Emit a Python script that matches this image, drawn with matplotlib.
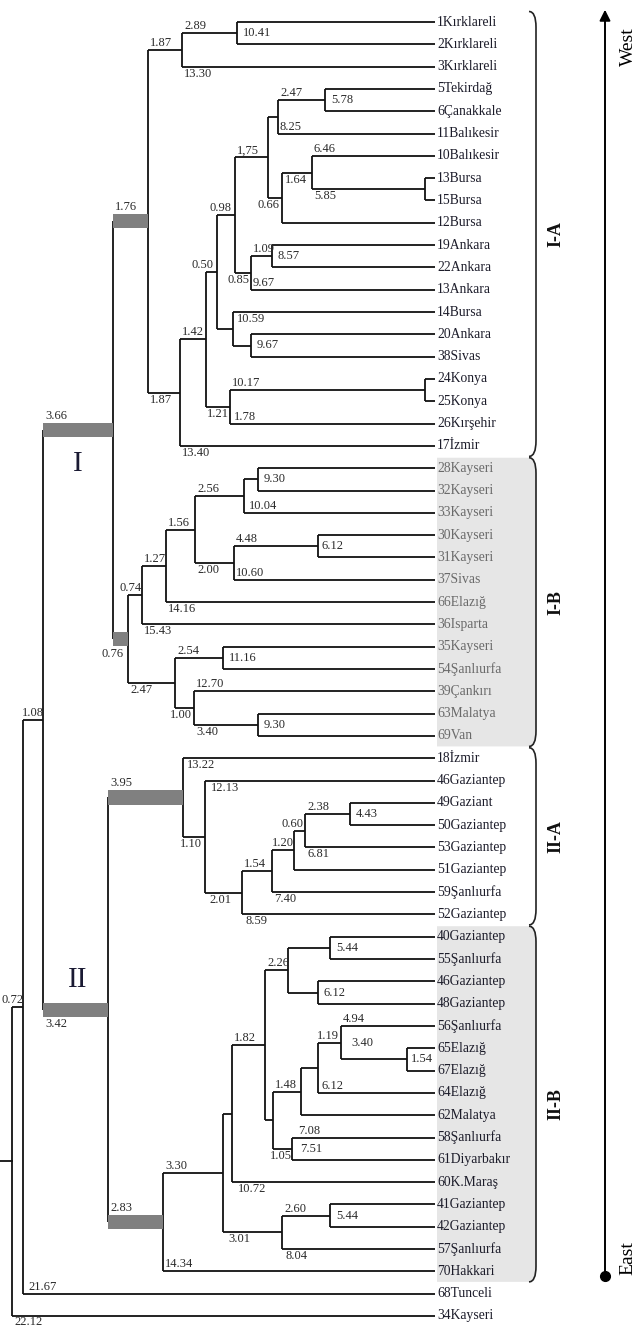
import matplotlib.pyplot as plt
from matplotlib.patches import Rectangle, PathPatch
from matplotlib.path import Path

plt.rcParams['font.family'] = ['Liberation Serif', 'DejaVu Serif']

# leaves, top to bottom
leaves = [
    '1Kırklareli', '2Kırklareli', '3Kırklareli', '5Tekirdağ', '6Çanakkale',
    '11Balıkesir', '10Balıkesir', '13Bursa', '15Bursa', '12Bursa',
    '19Ankara', '22Ankara', '13Ankara', '14Bursa', '20Ankara', '38Sivas',
    '24Konya', '25Konya', '26Kırşehir', '17İzmir',
    '28Kayseri', '32Kayseri', '33Kayseri', '30Kayseri', '31Kayseri', '37Sivas',
    '66Elazığ', '36Isparta', '35Kayseri', '54Şanlıurfa', '39Çankırı',
    '63Malatya', '69Van',
    '18İzmir', '46Gaziantep', '49Gaziant', '50Gaziantep', '53Gaziantep',
    '51Gaziantep', '59Şanlıurfa', '52Gaziantep',
    '40Gaziantep', '55Şanlıurfa', '46Gaziantep', '48Gaziantep', '56Şanlıurfa',
    '65Elazığ', '67Elazığ', '64Elazığ', '62Malatya', '58Şanlıurfa',
    '61Diyarbakır', '60K.Maraş', '41Gaziantep', '42Gaziantep', '57Şanlıurfa',
    '70Hakkari',
    '68Tunceli', '34Kayseri',
]

# merges (top child, bottom child); ints are leaf indices
children = {
    'a1': (0, 1), 'a2': ('a1', 2), 'a3': (3, 4), 'a4': ('a3', 5),
    'a5': (7, 8), 'a6': (6, 'a5'), 'a7': ('a6', 9), 'a8': ('a4', 'a7'),
    'a9': (10, 11), 'a10': ('a9', 12), 'a11': ('a8', 'a10'),
    'a12': (14, 15), 'a13': (13, 'a12'), 'a14': ('a11', 'a13'),
    'a15': (16, 17), 'a16': ('a15', 18), 'a17': ('a14', 'a16'),
    'a18': ('a17', 19), 'IA': ('a2', 'a18'),
    'b1': (20, 21), 'b2': ('b1', 22), 'b3': (23, 24), 'b4': ('b3', 25),
    'b5': ('b2', 'b4'), 'b6': ('b5', 26), 'b7': ('b6', 27),
    'b8': (28, 29), 'b9': (31, 32), 'b10': (30, 'b9'), 'b11': ('b8', 'b10'),
    'IB': ('b7', 'b11'), 'I': ('IA', 'IB'),
    'c1': (35, 36), 'c2': ('c1', 37), 'c3': ('c2', 38), 'c4': ('c3', 39),
    'c5': ('c4', 40), 'c6': (34, 'c5'), 'IIA': (33, 'c6'),
    'd1': (41, 42), 'd2': (43, 44), 'd3': ('d1', 'd2'), 'd4': (46, 47),
    'd5': (45, 'd4'), 'd6': ('d5', 48), 'd7': ('d6', 49), 'd8': (50, 51),
    'd9': ('d7', 'd8'), 'd10': ('d3', 'd9'), 'd11': ('d10', 52),
    'd12': (53, 54), 'd13': ('d12', 55), 'd14': ('d11', 'd13'),
    'IIB': ('d14', 56), 'II': ('IIA', 'IIB'),
    'r1': ('I', 'II'), 'r2': ('r1', 57), 'r3': ('r2', 58),
}

# node position along the distance axis
node_x = {
    'a1': 237, 'a2': 182, 'a3': 325, 'a4': 278, 'a5': 425, 'a6': 312,
    'a7': 282, 'a8': 268, 'a9': 272, 'a10': 251, 'a11': 235, 'a12': 251,
    'a13': 233, 'a14': 217, 'a15': 425, 'a16': 230, 'a17': 206, 'a18': 180,
    'IA': 148,
    'b1': 258, 'b2': 244, 'b3': 318, 'b4': 234, 'b5': 195, 'b6': 166,
    'b7': 142, 'b8': 223, 'b9': 258, 'b10': 194, 'b11': 175, 'IB': 128,
    'I': 113,
    'c1': 350, 'c2': 305, 'c3': 294, 'c4': 272, 'c5': 242, 'c6': 205,
    'IIA': 183,
    'd1': 330, 'd2': 318, 'd3': 288, 'd4': 407, 'd5': 341, 'd6': 318,
    'd7': 301, 'd8': 292, 'd9': 273, 'd10': 265, 'd11': 232, 'd12': 330,
    'd13': 282, 'd14': 223, 'IIB': 163, 'II': 108,
    'r1': 43, 'r2': 23, 'r3': 12,
}
thick_nodes = ['IA', 'IB', 'I', 'II', 'IIA', 'IIB']

groups = ['I-A', 'I-B', 'II-A', 'II-B']
group_first = [0, 20, 33, 41]
group_last = [19, 32, 40, 56]
group_shaded = [False, True, False, True]

branch_label_node = [
    'a2', 'a1', 'a2', 'IA', 'I', 'a4', 'a3', 'a4', 'a11', 'a6', 'a7', 'a6',
    'a14', 'a8', 'a10', 'a9', 'a11', 'a10', 'a17', 'a13', 'a12', 'a18', 'IA',
    'a16', 'a17', 'a16', 'a18', 'r1',
    'b1', 'b5', 'b2', 'b6', 'b4', 'b3', 'b7', 'b5', 'b4', 'IB', 'b6', 'b7',
    'I', 'b11', 'b8', 'b10', 'IB', 'b11', 'b10', 'b9', 'r2',
    'IIA', 'II', 'c6', 'IIA', 'c2', 'c1', 'c3', 'c4', 'c2', 'c5', 'c4', 'c6',
    'c5',
    'd1', 'd10', 'd2', 'd5', 'd6', 'd11', 'd5', 'd4', 'd6', 'd9', 'IIB', 'd8',
    'd8', 'd9', 'd11', 'd13', 'd12', 'II', 'r1', 'd14', 'IIB', 'd13', 'r2',
    'r3', 'r3',
]
branch_label_text = [
    '2.89', '10.41', '13.30', '1.87', '1.76', '2.47', '5.78', '8.25', '1,75',
    '6.46', '1.64', '5.85', '0.98', '0.66', '1.09', '8.57', '0.85', '9.67',
    '0.50', '10.59', '9.67', '1.42', '1.87', '10.17', '1.21', '1.78', '13.40',
    '3.66',
    '9.30', '2.56', '10.04', '1.56', '4.48', '6.12', '1.27', '2.00', '10.60',
    '0.74', '14.16', '15.43', '0.76', '2.54', '11.16', '12.70', '2.47', '1.00',
    '3.40', '9.30', '1.08',
    '13.22', '3.95', '12.13', '1.10', '2.38', '4.43', '0.60', '1.20', '6.81',
    '1.54', '7.40', '2.01', '8.59',
    '5.44', '2.26', '6.12', '4.94', '1.19', '1.82', '3.40', '1.54', '6.12',
    '1.48', '3.30', '7.08', '7.51', '1.05', '10.72', '2.60', '5.44', '2.83',
    '3.42', '3.01', '14.34', '8.04', '21.67', '0.72', '22.12',
]

# label placement: side of the node, x shift (px), y shift (px)
branch_label_place = [
    ('ta', 0, 0), ('r', 2, 0), ('bb', 0, 0), ('ta', 0, 0), ('ta', 0, -7),
    ('ta', 0, 0), ('r', 2, 0), ('ba', 0, 0), ('ta', 0, 0), ('ta', 0, 0),
    ('tb', 1, 0), ('bb', 0, 0), ('ta', -10, 0), ('bb', -13, 0), ('ta', 0, 0),
    ('r', 2, 0), ('bb', -10, 0), ('ba', 0, 0), ('ta', -16, 0), ('tb', 2, 0),
    ('r', 2, 0), ('ta', 0, 0), ('bb', 0, 0), ('ta', 0, 0), ('bb', -1, 0),
    ('ba', 2, 0), ('bb', 0, 0), ('ta', 0, -7),
    ('r', 2, 0), ('ta', 0, 0), ('ba', 3, 0), ('ta', 0, 0), ('ta', 0, 0),
    ('r', 0, 0), ('ta', 0, 0), ('bb', 0, 0), ('ba', 0, 0), ('ta', -11, 0),
    ('bb', 0, 0), ('bb', 0, 0), ('bb', -13, 8), ('ta', 0, 0), ('r', 2, 0),
    ('ta', 0, 0), ('bb', 0, 0), ('bb', -7, 0), ('bb', 0, 0), ('r', 2, 0),
    ('ta', -3, 0),
    ('tb', 2, 0), ('ta', 0, -7), ('tb', 4, 0), ('bb', -5, 0), ('ta', 0, 0),
    ('r', 2, 0), ('ta', -14, 0), ('ta', -2, 0), ('bb', 0, 0), ('ta', 0, 0),
    ('bb', 0, 0), ('bb', 2, 0), ('bb', 2, 0),
    ('r', 2, 0), ('ta', 0, 0), ('r', 2, 0), ('ta', 0, 0), ('ta', -3, 0),
    ('ta', 0, 0), ('r', 6, 0), ('r', 0, 0), ('ba', 2, 0), ('ta', 0, 0),
    ('ta', 0, 0), ('ta', 4, 0), ('r', 4, 0), ('bb', -5, 0), ('bb', 4, 0),
    ('ta', 0, 0), ('r', 2, 0), ('ba', 0, -7), ('bb', 0, 7), ('bb', 3, 0),
    ('ba', 0, 0), ('bb', 2, 0), ('ba', 3, 0), ('ta', -12, 0), ('bb', 0, -1),
]

TOP_PX, BOTTOM_PX = 22, 1316   # pixel rows of the first and last leaf
ROW = (BOTTOM_PX - TOP_PX) / (len(leaves) - 1)
PX = 1.0 / ROW
LEAF_END = 435
BAR_H = 0.64
LINE = '#111111'
GREY_BAR = '#808080'

# y of every node = middle of its two children
ypos = {i: float(i) for i in range(len(leaves))}
xpos = {i: LEAF_END for i in range(len(leaves))}
for name, (top, bot) in children.items():
    ypos[name] = (ypos[top] + ypos[bot]) / 2
    xpos[name] = node_x[name]

fig = plt.figure(figsize=(6.38, 13.32), dpi=100)
ax = fig.add_axes([0, 0, 1, 1])
ax.set_xlim(0, 638)
ax.set_ylim(len(leaves) - 1 + (1332 - BOTTOM_PX) * PX, -TOP_PX * PX)
ax.axis('off')

# group shading and brackets
for g, y0, y1, shaded in zip(groups, group_first, group_last, group_shaded):
    top, bot = y0 - 0.47, y1 + 0.47
    xr, xc, c = 536, 529, 0.7
    verts = [(xc, top), (xr, top), (xr, top + c), (xr, bot - c), (xr, bot), (xc, bot)]
    codes = [Path.MOVETO, Path.CURVE3, Path.CURVE3, Path.LINETO, Path.CURVE3, Path.CURVE3]
    if shaded:
        fill = [(437, top)] + verts + [(437, bot), (437, top)]
        fcodes = [Path.MOVETO, Path.LINETO] + codes[1:] + [Path.LINETO, Path.CLOSEPOLY]
        ax.add_patch(PathPatch(Path(fill, fcodes), facecolor='#e6e6e6',
                               edgecolor='none', zorder=0))
    ax.add_patch(PathPatch(Path(verts, codes), facecolor='none',
                           edgecolor='#222222', lw=1.2, zorder=1))
    ax.text(556, (y0 + y1) / 2, g, rotation=90, ha='center', va='center',
            fontsize=13, fontweight='bold', color='#111111')

# dendrogram branches
for name, (top, bot) in children.items():
    x = xpos[name]
    ax.plot([x, x], [ypos[top], ypos[bot]], color=LINE, lw=1.3,
            solid_capstyle='butt', zorder=2)
    for ch in (top, bot):
        if ch in thick_nodes:
            ax.add_patch(Rectangle((x, ypos[ch] - BAR_H / 2), xpos[ch] - x,
                                   BAR_H, color=GREY_BAR, lw=0, zorder=3))
        else:
            ax.plot([x, xpos[ch]], [ypos[ch], ypos[ch]], color=LINE, lw=1.3,
                    solid_capstyle='butt', zorder=2)
ax.plot([0, xpos['r3']], [ypos['r3'], ypos['r3']], color=LINE, lw=1.3, zorder=2)

# leaf labels
for i, name in enumerate(leaves):
    col = '#6a6a6a' if 20 <= i <= 32 else '#1c1c2a'
    ax.text(LEAF_END + 2, i, name, ha='left', va='center', fontsize=9.8,
            color=col, zorder=4)

# branch values
for n, txt, (mode, dx, dy) in zip(branch_label_node, branch_label_text,
                                   branch_label_place):
    top, bot = children[n]
    x = xpos[n] + 2 + dx
    if mode == 'ta':
        y, va = ypos[top] - 1 * PX, 'bottom'
    elif mode == 'tb':
        y, va = ypos[top] + 1 * PX, 'top'
    elif mode == 'ba':
        y, va = ypos[bot] - 1 * PX, 'bottom'
    elif mode == 'bb':
        y, va = ypos[bot] + 1 * PX, 'top'
    else:
        x, y, va = x + 2, ypos[n], 'center'
    ax.text(x, y + dy * PX, txt, ha='left', va=va, fontsize=9,
            color='#2a2a2a', zorder=4)

# cluster names
ax.text(78, ypos['I'] + 1.5, 'I', ha='center', va='center', fontsize=21,
        color='#1a1a33')
ax.text(78, ypos['II'] - 1.35, 'II', ha='center', va='center', fontsize=21,
        color='#1a1a33')

# west-east arrow
ax.annotate('', xy=(605, -0.55), xytext=(605, 56.2),
            arrowprops=dict(arrowstyle='-|>', color='black', lw=1.4,
                            mutation_scale=16, shrinkA=0, shrinkB=0))
ax.plot(605, 56.2, 'o', color='black', ms=7)
ax.text(628, 1.1, 'West', rotation=90, ha='center', va='center', fontsize=14)
ax.text(628, 55.4, 'East', rotation=90, ha='center', va='center', fontsize=14)

fig.savefig('out.png', dpi=100)
